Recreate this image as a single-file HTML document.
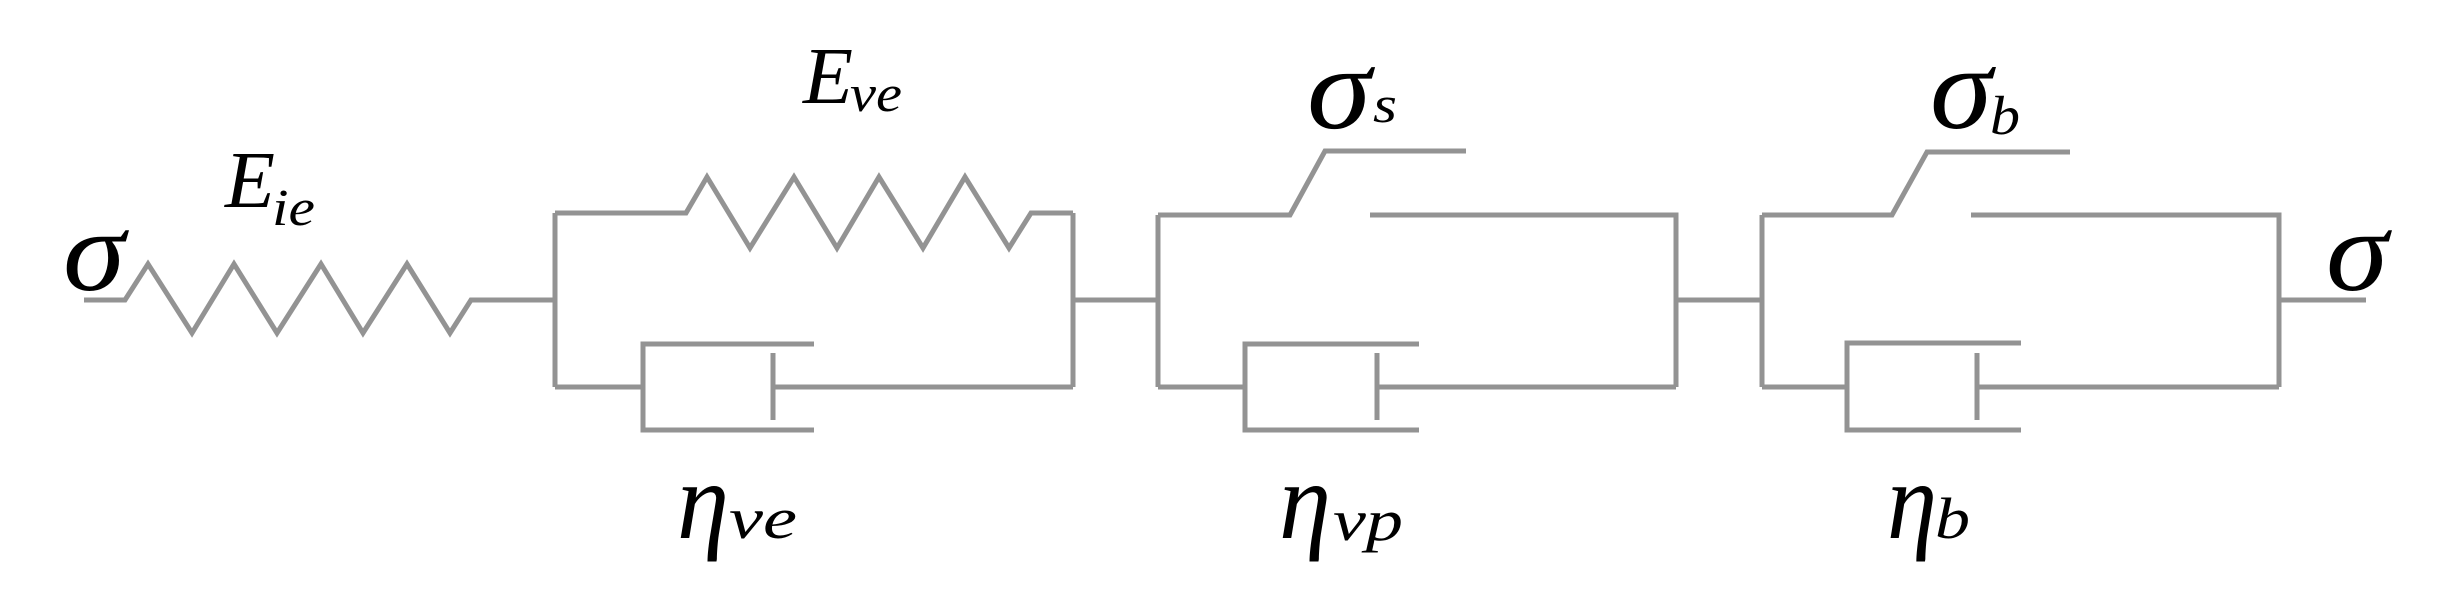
<!DOCTYPE html>
<html><head><meta charset="utf-8"><style>
html,body{margin:0;padding:0;background:#fff;}
svg{display:block;}
text{font-family:"Liberation Serif",serif;font-style:italic;fill:#000;}
</style></head><body>
<svg width="2443" height="611" viewBox="0 0 2443 611" xmlns="http://www.w3.org/2000/svg">
<g fill="none" stroke="#939393" stroke-width="5" stroke-linejoin="miter" stroke-linecap="butt">
<!-- left sigma line and spring -->
<polyline points="84,300 125,300 148,264 192,333 234,264 277,333 321,264 363,333 407,264 450,333 471,300 555,300"/>
<!-- element 1 -->
<line x1="555" y1="213" x2="555" y2="387"/>
<polyline points="555,213 686,213 707,177 750,248 794,177 837,248 879,177 923,248 965,177 1009,248 1031,213 1073,213"/>
<line x1="1073" y1="213" x2="1073" y2="387"/>
<line x1="555" y1="387" x2="643" y2="387"/>
<polyline points="814,344 643,344 643,430 814,430"/>
<line x1="773" y1="353" x2="773" y2="420"/>
<line x1="773" y1="387" x2="1073" y2="387"/>
<line x1="1073" y1="300" x2="1158" y2="300"/>
<!-- element 2 -->
<line x1="1158" y1="215" x2="1158" y2="387"/>
<polyline points="1158,215 1290,215 1325,151 1466,151"/>
<polyline points="1370,215 1676,215 1676,387"/>
<line x1="1158" y1="387" x2="1245" y2="387"/>
<polyline points="1419,344 1245,344 1245,430 1419,430"/>
<line x1="1377" y1="353" x2="1377" y2="420"/>
<line x1="1377" y1="387" x2="1676" y2="387"/>
<line x1="1676" y1="300" x2="1762" y2="300"/>
<!-- element 3 -->
<line x1="1762" y1="215" x2="1762" y2="387"/>
<polyline points="1762,215 1892,215 1927,152 2070,152"/>
<polyline points="1971,215 2279,215 2279,387"/>
<line x1="1762" y1="387" x2="1847" y2="387"/>
<polyline points="2021,343 1847,343 1847,430 2021,430"/>
<line x1="1977" y1="353" x2="1977" y2="420"/>
<line x1="1977" y1="387" x2="2279" y2="387"/>
<line x1="2279" y1="300" x2="2366" y2="300"/>
</g>
<!-- labels -->
<text x="63" y="290" font-size="115" textLength="62" lengthAdjust="spacingAndGlyphs">σ</text>
<text x="2326" y="290" font-size="115" textLength="62" lengthAdjust="spacingAndGlyphs">σ</text>
<text x="225" y="207" font-size="80" textLength="50" lengthAdjust="spacingAndGlyphs">E</text>
<text x="272" y="225" font-size="52" textLength="43" lengthAdjust="spacingAndGlyphs">ie</text>
<text x="803" y="103" font-size="80" textLength="50" lengthAdjust="spacingAndGlyphs">E</text>
<text x="850" y="111" font-size="52" textLength="52" lengthAdjust="spacingAndGlyphs">ve</text>
<text x="1307" y="128" font-size="118" textLength="64" lengthAdjust="spacingAndGlyphs">σ</text>
<text x="1373" y="122" font-size="52" textLength="24" lengthAdjust="spacingAndGlyphs">s</text>
<text x="1930" y="128" font-size="118" textLength="62" lengthAdjust="spacingAndGlyphs">σ</text>
<text x="1990" y="134" font-size="55" textLength="30" lengthAdjust="spacingAndGlyphs">b</text>
<text x="677" y="538" font-size="110" textLength="52" lengthAdjust="spacingAndGlyphs">η</text>
<text x="729" y="538" font-size="58" textLength="68" lengthAdjust="spacingAndGlyphs">ve</text>
<text x="1279" y="538" font-size="110" textLength="52" lengthAdjust="spacingAndGlyphs">η</text>
<text x="1333" y="540" font-size="58" textLength="70" lengthAdjust="spacingAndGlyphs">vp</text>
<text x="1887" y="538" font-size="110" textLength="50" lengthAdjust="spacingAndGlyphs">η</text>
<text x="1935" y="538" font-size="58" textLength="35" lengthAdjust="spacingAndGlyphs">b</text>
</svg>
</body></html>
